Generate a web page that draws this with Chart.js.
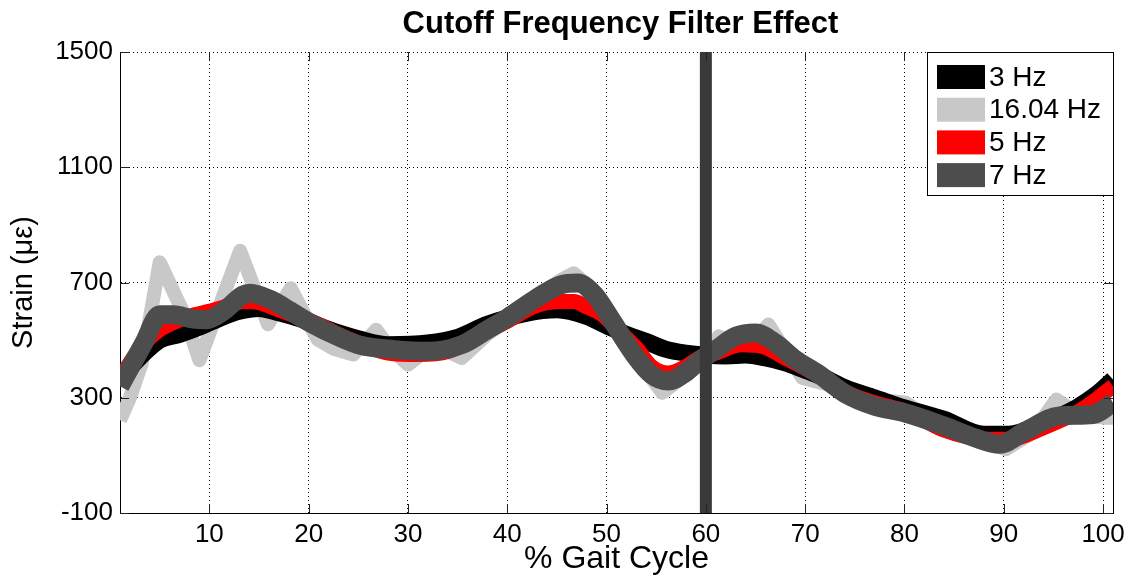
<!DOCTYPE html>
<html>
<head>
<meta charset="utf-8">
<script src="https://cdn.jsdelivr.net/npm/chart.js@4.4.1/dist/chart.umd.min.js"></script>
<style>
html,body{margin:0;padding:0;background:#ffffff;}
#wrap{width:1136px;height:579px;position:relative;}
</style>
</head>
<body>
<div id="wrap"><canvas id="c" width="1136" height="579"></canvas></div>
<script>
const FONT = '"Liberation Sans", Arial, Helvetica, sans-serif';

const chartTitle = 'Cutoff Frequency Filter Effect';
const xAxisLabel = '% Gait Cycle';
const yAxisLabel = 'Strain (\u03BC\u03B5)';
const xTickValues = [10, 20, 30, 40, 50, 60, 70, 80, 90, 100];
const yTickValues = [-100, 300, 700, 1100, 1500];
const seriesNames = ['3 Hz', '16.04 Hz', '5 Hz', '7 Hz'];
const seriesColors = ['#000000', '#c8c8c8', '#ff0000', '#4d4d4d'];

// 3 Hz
const hz3X = [1, 3, 5, 7, 9, 11, 13, 15, 17, 19, 21, 23, 25, 28, 32, 35, 38, 42, 45, 48, 50, 52, 54, 56, 58, 60, 62, 64, 66, 68, 70, 72, 74, 77, 80, 84, 88, 90.5, 94, 97.3, 99.3, 101];
const hz3Y = [365, 440, 500, 520, 545, 575, 600, 610, 595, 575, 550, 525, 505, 484, 490, 510, 555, 594, 605, 582, 550, 520, 495, 468, 455, 448, 445, 448, 438, 421, 395, 368, 335, 300, 265, 225, 173, 173, 213, 265, 311, 363];

// 16.04 Hz
const hz16X = [1, 2, 3.2, 5, 7.4, 9, 11, 13.1, 15.9, 18.2, 20.9, 22.5, 24.5, 26.8, 28, 30, 32.6, 35.4, 38, 40, 42.7, 45.4, 46.7, 49, 51, 53, 55.6, 58, 59.6, 61.3, 64, 66.3, 69.7, 73, 75, 78.8, 80.1, 82, 85.5, 88, 90.2, 92.9, 95.3, 97.3, 100, 101];
const hz16Y = [222, 300, 421, 770, 594, 430, 617, 810, 555, 680, 502, 470, 450, 536, 480, 415, 484, 438, 520, 570, 645, 709, 732, 663, 560, 440, 317, 380, 432, 513, 470, 554, 369, 340, 300, 288, 283, 240, 202, 150, 121, 179, 294, 248, 231, 231];

// 5 Hz
const hz5X = [1, 3, 5, 7, 8.5, 10, 12, 13.5, 15, 17, 19, 21, 23, 25, 28, 31, 34, 37, 40, 42.7, 45.4, 46.7, 48, 49.5, 51, 53, 54.5, 56.2, 58, 59.3, 61, 63.6, 65.7, 68, 71.4, 74, 77, 80.5, 83.8, 88.2, 90.6, 94, 97.3, 99.3, 101];
const hz5Y = [369, 470, 536, 570, 588, 600, 620, 634, 630, 605, 580, 555, 520, 490, 455, 450, 460, 515, 565, 617, 634, 634, 615, 590, 540, 473, 409, 386, 409, 438, 455, 484, 478, 438, 375, 320, 283, 248, 190, 156, 156, 196, 248, 294, 340];

// 7 Hz
const hz7X = [1, 3.4, 5, 6.4, 8.4, 9.7, 11.4, 13.4, 14.1, 16.2, 18.2, 20.2, 22.9, 25.2, 28.6, 32, 35.4, 38, 40, 42.7, 45.4, 47.1, 48.8, 50.5, 52.9, 54.5, 56.2, 57.9, 59.3, 61, 63, 65, 67, 69, 71.4, 74, 77, 80, 84, 87, 89.6, 92.2, 95.6, 99, 101];
const hz7Y = [340, 490, 588, 588, 573, 571, 600, 657, 663, 640, 600, 559, 513, 482, 467, 461, 484, 536, 577, 640, 692, 698, 657, 570, 444, 381, 358, 386, 427, 467, 513, 525, 490, 433, 381, 315, 271, 248, 202, 162, 139, 185, 237, 242, 283];

// vertical marker at 60 % gait cycle
const markerX = [60, 60];
const markerY = [-100, 1500];

function pts(xs, ys) { return xs.map((x, i) => ({ x: x, y: ys[i] })); }

const seriesX = [hz3X, hz16X, hz5X, hz7X];
const seriesY = [hz3Y, hz16Y, hz5Y, hz7Y];
const seriesWidth = [17, 14, 15, 19];
const seriesOrder = [3, 4, 2, 1];
const seriesSmooth = [true, false, true, true];

const datasets = seriesNames.map((name, i) => ({
  label: name,
  data: pts(seriesX[i], seriesY[i]),
  borderColor: seriesColors[i],
  backgroundColor: seriesColors[i],
  borderWidth: seriesWidth[i],
  borderJoinStyle: 'round',
  pointRadius: 0,
  cubicInterpolationMode: seriesSmooth[i] ? 'monotone' : 'default',
  tension: 0,
  fill: false,
  clip: 0,
  order: seriesOrder[i]
}));
datasets.push({
  label: 'marker',
  data: pts(markerX, markerY),
  borderColor: '#3a3a3a',
  borderWidth: 12,
  pointRadius: 0,
  fill: false,
  clip: 0,
  order: 0
});

const decorPlugin = {
  id: 'decor',
  afterDraw(chart) {
    const ctx = chart.ctx;
    const a = chart.chartArea;
    const xs = chart.scales.x, ys = chart.scales.y;
    ctx.save();
    // right border
    ctx.strokeStyle = '#000';
    ctx.lineWidth = 1;
    ctx.beginPath();
    ctx.moveTo(a.right + 0.5, a.top);
    ctx.lineTo(a.right + 0.5, a.bottom);
    ctx.stroke();
    // inward tick marks
    ctx.strokeStyle = '#222';
    ctx.beginPath();
    xTickValues.forEach(v => {
      const px = Math.round(xs.getPixelForValue(v)) + 0.5;
      ctx.moveTo(px, a.bottom); ctx.lineTo(px, a.bottom - 9);
      ctx.moveTo(px, a.top); ctx.lineTo(px, a.top + 9);
    });
    yTickValues.forEach(v => {
      const py = Math.round(ys.getPixelForValue(v)) + 0.5;
      ctx.moveTo(a.left, py); ctx.lineTo(a.left + 9, py);
      ctx.moveTo(a.right, py); ctx.lineTo(a.right - 9, py);
    });
    ctx.stroke();

    // title
    ctx.fillStyle = '#000';
    ctx.font = 'bold 31px ' + FONT;
    ctx.textAlign = 'center';
    ctx.textBaseline = 'alphabetic';
    ctx.fillText(chartTitle, (a.left + a.right) / 2 + 4, 33);

    // legend
    const lx = 927, ly = a.top, lw = a.right - 927, lh = 143;
    ctx.fillStyle = '#fff';
    ctx.fillRect(lx, ly, lw, lh);
    ctx.strokeStyle = '#000';
    ctx.lineWidth = 1;
    ctx.strokeRect(lx + 0.5, ly + 0.5, lw, lh);
    ctx.font = '28px ' + FONT;
    ctx.textAlign = 'left';
    ctx.textBaseline = 'middle';
    seriesNames.forEach((name, i) => {
      const cy = 77 + i * 32.7;
      ctx.fillStyle = seriesColors[i];
      ctx.fillRect(937, cy - 12, 48, 24);
      ctx.fillStyle = '#000';
      ctx.fillText(name, 989, cy + 1);
    });
    ctx.restore();
  }
};

Chart.defaults.font.family = FONT;

new Chart(document.getElementById('c'), {
  type: 'line',
  data: { datasets: datasets },
  options: {
    responsive: false,
    devicePixelRatio: 1,
    animation: false,
    layout: { padding: { top: 52, right: 23, left: 0, bottom: 0 } },
    plugins: { legend: { display: false }, tooltip: { enabled: false }, title: { display: false } },
    scales: {
      x: {
        type: 'linear',
        min: 1,
        max: 101,
        afterBuildTicks: s => { s.ticks = xTickValues.map(v => ({ value: v })); },
        afterFit: s => { s.height = 66; },
        ticks: { color: '#000', font: { size: 26, family: FONT }, padding: 6, maxRotation: 0, autoSkip: false, callback: v => String(v) },
        grid: { color: '#000', lineWidth: 1, drawTicks: false },
        border: { display: true, color: '#000', width: 1, dash: [1, 3] },
        title: { display: true, text: xAxisLabel, color: '#000', font: { size: 32, family: FONT }, padding: { top: 0, bottom: 1 } }
      },
      y: {
        type: 'linear',
        min: -100,
        max: 1500,
        afterBuildTicks: s => { s.ticks = yTickValues.map(v => ({ value: v })); },
        afterFit: s => { s.width = 120; },
        ticks: { color: '#000', font: { size: 26, family: FONT }, padding: 7, callback: v => String(v) },
        grid: { color: '#000', lineWidth: 1, drawTicks: false },
        border: { display: true, color: '#000', width: 1, dash: [1, 3] },
        title: { display: true, text: yAxisLabel, color: '#000', font: { size: 29, family: FONT }, padding: { top: 7, bottom: 0 } }
      }
    }
  },
  plugins: [decorPlugin]
});
</script>
</body>
</html>
